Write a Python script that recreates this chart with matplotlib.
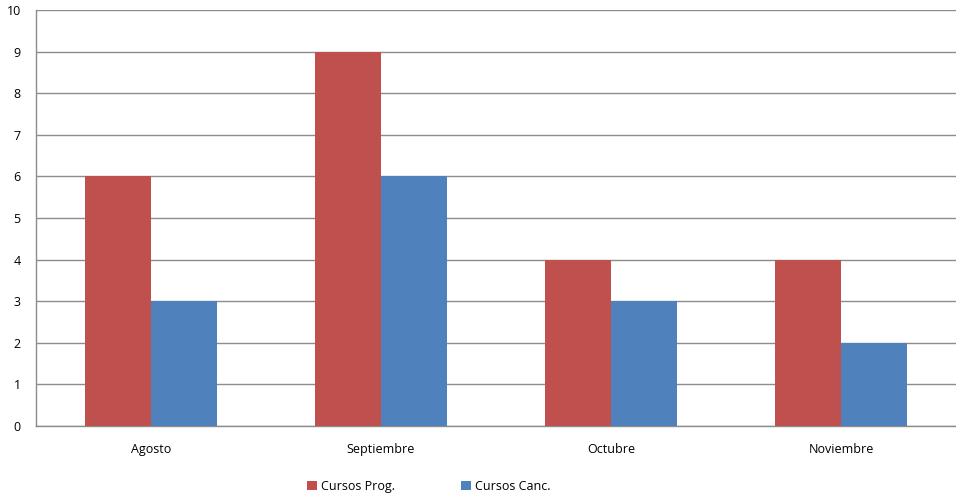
import matplotlib
matplotlib.use("Agg")
import matplotlib.pyplot as plt
import numpy as np

months = ["Agosto", "Septiembre", "Octubre", "Noviembre"]
cursos_prog = [6, 9, 4, 4]
cursos_canc = [3, 6, 3, 2]
series_names = ["Cursos Prog.", "Cursos Canc."]

red = "#C0504D"
blue = "#4F81BD"
grey = "#8C8C8C"

plt.rcParams["font.family"] = ["Open Sans", "DejaVu Sans"]

fig = plt.figure(figsize=(9.56, 4.95), dpi=100)
ax = fig.add_axes([36 / 956, 69 / 495, 920 / 956, 416 / 495])

x = np.arange(len(months))
w = 0.285
ax.bar(x - w / 2, cursos_prog, w, color=red, label=series_names[0], zorder=3)
ax.bar(x + w / 2, cursos_canc, w, color=blue, label=series_names[1], zorder=3)

ax.set_xlim(-0.5, len(months) - 0.5)
ax.set_ylim(0, 10)
ax.set_yticks(range(0, 11))
ax.set_xticks(x)
ax.set_xticklabels(months)
ax.tick_params(axis="both", labelsize=9, length=0, colors="black")
ax.tick_params(axis="x", pad=12)
ax.tick_params(axis="y", pad=11)
ax.grid(axis="y", color=grey, linewidth=1, zorder=0)

for side in ("top", "right"):
    ax.spines[side].set_visible(False)
for side in ("left", "bottom"):
    ax.spines[side].set_color(grey)
    ax.spines[side].set_linewidth(1)

fig.legend(loc="lower center", bbox_to_anchor=(0.4486, -0.018), ncol=2,
           frameon=False, fontsize=9, handlelength=0.8, handleheight=0.8,
           handletextpad=0.3, columnspacing=5.3)

fig.savefig("out.png", dpi=100)
